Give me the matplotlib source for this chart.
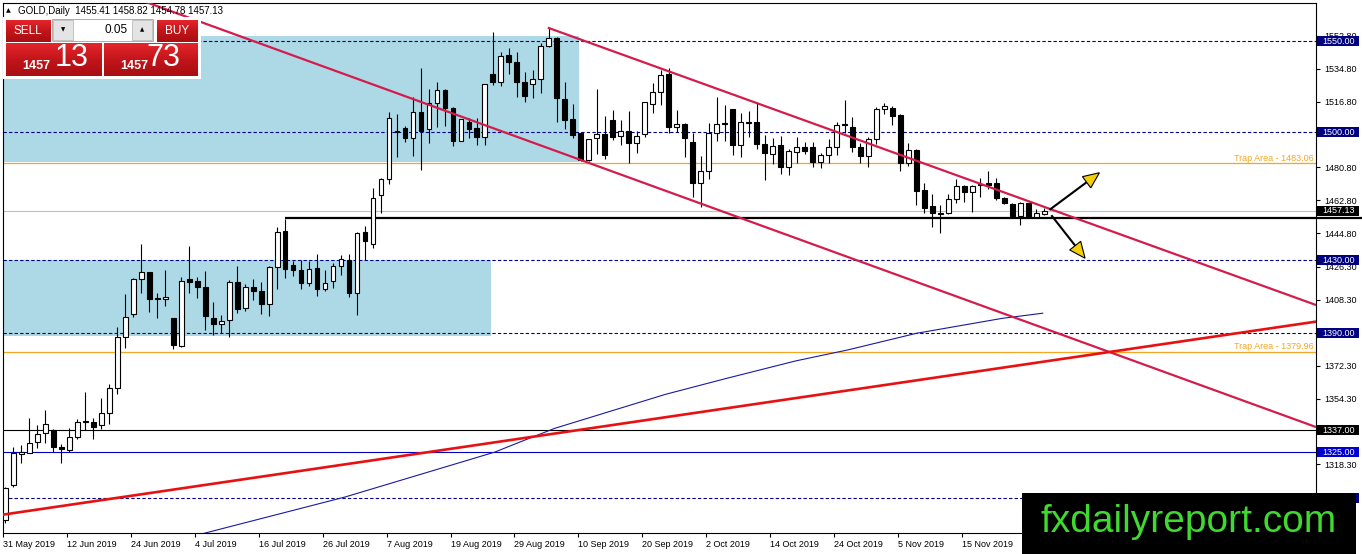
import numpy as np
import matplotlib
matplotlib.use("Agg")
import matplotlib.pyplot as plt
from matplotlib.patches import Rectangle, Polygon
from matplotlib.colors import LinearSegmentedColormap
from matplotlib import transforms

plt.rcParams['font.family'] = ['Liberation Sans', 'DejaVu Sans']

# Dane dzienne GOLD, od 31 May 2019
opens = [1288.0, 1307.0, 1324.0, 1324.7, 1330.4, 1335.3, 1336.9, 1327.6, 1326.2, 1333.1,
         1341.7, 1341.3, 1339.9, 1346.2, 1359.9, 1387.8, 1400.4, 1419.6, 1423.4, 1409.2,
         1409.0, 1398.2, 1383.3, 1419.6, 1418.7, 1415.2, 1398.2, 1394.9, 1397.3, 1418.2,
         1403.7, 1415.1, 1413.3, 1405.8, 1426.1, 1446.0, 1427.2, 1424.6, 1417.3, 1425.5,
         1414.0, 1418.8, 1426.8, 1430.1, 1412.2, 1445.3, 1438.9, 1465.7, 1474.3, 1500.0,
         1502.2, 1497.1, 1511.0, 1501.7, 1515.9, 1523.2, 1513.2, 1495.5, 1505.9, 1502.2,
         1497.6, 1531.8, 1527.4, 1542.3, 1538.7, 1527.4, 1526.3, 1529.0, 1547.4, 1551.8,
         1518.3, 1507.3, 1499.5, 1485.0, 1496.7, 1499.1, 1506.8, 1498.2, 1500.9, 1494.0,
         1499.1, 1515.5, 1521.9, 1531.9, 1503.1, 1504.6, 1494.5, 1472.1, 1478.8, 1499.5,
         1505.3, 1512.6, 1493.1, 1505.5, 1505.5, 1493.6, 1488.1, 1492.9, 1480.9, 1489.4,
         1491.8, 1491.8, 1484.0, 1487.6, 1491.8, 1504.6, 1502.7, 1491.8, 1487.2, 1496.2,
         1512.6, 1513.1, 1509.5, 1483.0, 1490.3, 1468.4, 1459.7, 1455.7, 1455.7, 1463.3,
         1470.8, 1467.5, 1471.5, 1472.5, 1472.5, 1463.9, 1460.6, 1454.2, 1461.2, 1453.9,
         1455.41]
highs = [1306.0, 1328.0, 1329.0, 1343.5, 1339.8, 1348.1, 1337.5, 1329.3, 1338.0, 1343.0,
         1357.7, 1343.5, 1354.4, 1362.3, 1393.7, 1411.6, 1420.1, 1438.9, 1423.8, 1412.3,
         1424.7, 1398.5, 1421.0, 1437.8, 1421.0, 1424.3, 1407.3, 1400.0, 1419.2, 1426.8,
         1417.0, 1419.5, 1417.9, 1426.8, 1448.0, 1452.4, 1429.7, 1430.1, 1429.7, 1433.4,
         1424.6, 1428.3, 1432.8, 1433.4, 1445.6, 1448.7, 1469.3, 1474.8, 1511.0, 1509.9,
         1503.7, 1519.5, 1535.4, 1523.7, 1527.7, 1523.5, 1514.0, 1507.5, 1507.7, 1507.7,
         1526.5, 1555.1, 1544.2, 1546.4, 1544.2, 1532.9, 1534.1, 1548.7, 1557.0, 1552.4,
         1527.4, 1515.3, 1500.0, 1496.5, 1524.0, 1508.9, 1512.2, 1506.8, 1511.9, 1500.9,
         1516.8, 1526.8, 1534.1, 1535.0, 1512.2, 1505.0, 1499.5, 1487.1, 1505.3, 1519.2,
         1515.0, 1513.0, 1510.4, 1511.9, 1516.8, 1498.5, 1496.7, 1498.0, 1490.7, 1497.3,
         1494.6, 1494.9, 1488.9, 1496.2, 1505.9, 1517.7, 1508.2, 1494.0, 1497.6, 1514.1,
         1516.2, 1514.4, 1509.8, 1494.0, 1490.7, 1472.5, 1466.3, 1460.2, 1466.3, 1474.3,
         1471.2, 1471.2, 1474.8, 1478.9, 1474.8, 1464.4, 1461.2, 1462.1, 1461.5, 1457.9,
         1458.82]
lows = [1286.0, 1305.7, 1319.0, 1324.3, 1327.1, 1329.8, 1325.3, 1319.2, 1325.3, 1332.0,
        1337.1, 1332.0, 1337.7, 1340.4, 1356.8, 1382.2, 1399.2, 1411.9, 1401.9, 1398.2,
        1405.0, 1381.3, 1382.7, 1411.9, 1409.6, 1391.8, 1389.0, 1390.0, 1388.0, 1400.9,
        1402.4, 1408.2, 1400.6, 1399.5, 1414.0, 1420.1, 1421.4, 1414.0, 1415.9, 1410.6,
        1413.3, 1414.6, 1421.9, 1410.0, 1400.0, 1430.1, 1436.5, 1456.0, 1471.7, 1486.7,
        1494.9, 1487.2, 1479.4, 1494.0, 1503.1, 1503.7, 1492.7, 1495.0, 1496.7, 1493.1,
        1493.1, 1525.9, 1525.6, 1531.8, 1519.5, 1516.8, 1519.0, 1521.4, 1546.9, 1505.8,
        1501.8, 1497.1, 1484.5, 1484.5, 1488.0, 1485.2, 1495.8, 1493.1, 1483.4, 1488.5,
        1497.6, 1510.8, 1515.0, 1499.8, 1500.4, 1486.7, 1464.4, 1459.3, 1474.3, 1495.4,
        1495.4, 1487.6, 1486.7, 1497.6, 1490.7, 1473.9, 1482.7, 1477.2, 1476.7, 1483.4,
        1488.0, 1481.2, 1480.7, 1483.0, 1487.6, 1499.8, 1489.4, 1483.4, 1480.9, 1493.6,
        1510.0, 1504.0, 1479.0, 1481.6, 1460.2, 1455.7, 1448.0, 1445.1, 1455.3, 1461.2,
        1462.1, 1456.6, 1464.4, 1468.8, 1463.0, 1461.0, 1453.9, 1449.3, 1452.9, 1453.9,
        1454.78]
closes = [1305.5, 1324.7, 1325.0, 1329.8, 1334.7, 1340.2, 1327.6, 1326.5, 1333.1, 1341.7,
          1341.5, 1338.9, 1346.2, 1359.9, 1387.8, 1399.2, 1419.6, 1423.4, 1408.6, 1408.6,
          1410.0, 1383.6, 1418.7, 1418.3, 1415.2, 1399.5, 1394.9, 1396.9, 1418.2, 1403.1,
          1415.1, 1413.3, 1405.8, 1426.1, 1445.6, 1425.0, 1424.6, 1417.3, 1425.0, 1414.0,
          1417.7, 1426.8, 1430.5, 1412.2, 1444.7, 1440.7, 1463.9, 1474.3, 1508.0, 1501.0,
          1496.7, 1511.0, 1500.8, 1515.9, 1523.2, 1513.2, 1495.5, 1507.1, 1501.8, 1497.6,
          1526.3, 1527.4, 1542.0, 1538.7, 1527.4, 1520.1, 1529.0, 1547.4, 1551.8, 1518.6,
          1506.8, 1498.6, 1485.0, 1496.2, 1499.0, 1487.6, 1497.6, 1500.9, 1494.0, 1498.2,
          1516.4, 1521.9, 1531.4, 1503.1, 1504.6, 1496.7, 1472.1, 1478.8, 1499.5, 1504.4,
          1504.6, 1493.1, 1505.5, 1505.3, 1493.6, 1488.5, 1492.5, 1480.9, 1490.0, 1491.8,
          1490.0, 1484.0, 1487.6, 1491.8, 1504.0, 1504.0, 1491.8, 1487.2, 1496.2, 1512.8,
          1514.4, 1509.0, 1483.4, 1490.3, 1468.1, 1458.4, 1455.7, 1455.5, 1463.3, 1470.6,
          1467.5, 1470.6, 1471.3, 1471.2, 1463.9, 1461.5, 1454.2, 1461.2, 1453.9, 1455.7,
          1457.13]

date_labels = ["31 May 2019", "12 Jun 2019", "24 Jun 2019", "4 Jul 2019", "16 Jul 2019",
               "26 Jul 2019", "7 Aug 2019", "19 Aug 2019", "29 Aug 2019", "10 Sep 2019",
               "20 Sep 2019", "2 Oct 2019", "14 Oct 2019", "24 Oct 2019", "5 Nov 2019",
               "15 Nov 2019"]
date_bars = [0, 8, 16, 24, 32, 40, 48, 56, 64, 72, 80, 88, 96, 104, 112, 120]

price_ticks = [1552.8, 1534.8, 1516.8, 1480.8, 1462.8, 1444.8, 1426.3,
               1408.3, 1372.3, 1354.3, 1318.3]

# Poziomy
dashed_levels = [1550.0, 1500.0, 1430.0, 1390.0, 1300.0]
trap_levels = [1483.06, 1379.96]
black_level = 1337.0
blue_level = 1325.0
bid_price = 1457.13
support_level = 1453.0
support_start = 35

# Prostokąty (bar od, bar do, cena dół, cena góra)
zone_bars = [(-1, 71.75), (-1, 60.75)]
zone_prices = [(1484.0, 1552.7), (1388.5, 1430.3)]

# Linie trendu (bary, ceny)
chan_upper_bars, chan_upper_px = [68, 164], [1557.1, 1405.5]
chan_lower_bars, chan_lower_px = [12, 164], [1580.2, 1338.7]
red_bars, red_px = [-1, 164], [1290.3, 1396.4]

# Średnia (odczytane punkty)
ma_bars = [23.5, 42.5, 61.25, 64.5, 68.75, 82.6, 90.3, 98.9, 105.4, 114, 124.75, 129.8]
ma_vals = [1279.0, 1300.4, 1325.0, 1330.7, 1338.0, 1356.6, 1365.4, 1374.9, 1380.9,
           1390.0, 1398.2, 1401.0]

# Strzałki (start, koniec)
arrows = [((130.75, 1457.9), (136.9, 1477.9)),
          ((130.96, 1454.2), (135.1, 1431.1))]

W, H = 1362, 554
fig = plt.figure(figsize=(W / 100, H / 100), dpi=100)
ax = fig.add_axes([3 / W, 21 / H, 1313 / W, 530 / H])
ax.set_xlim(-0.125, 164)
ax.set_ylim(1280.7, 1570.8)

NAVY = '#000080'
ORANGE = '#f5a623'
CRIMSON = '#d41c4c'

for (b0, b1), (p0, p1) in zip(zone_bars, zone_prices):
    ax.add_patch(Rectangle((b0, p0), b1 - b0, p1 - p0, facecolor='#add8e6',
                           edgecolor='none', zorder=1))

for lv in dashed_levels:
    ax.axhline(lv, color=NAVY, lw=0.8, ls=(0, (3, 2)), zorder=2)
for lv in trap_levels:
    ax.axhline(lv, color=ORANGE, lw=0.9, zorder=2)
ax.axhline(black_level, color='black', lw=0.8, zorder=2)
ax.axhline(blue_level, color='#0000c0', lw=0.8, zorder=2)
ax.axhline(bid_price, color='#c0c0c0', lw=0.8, zorder=1.5)
ax.plot([support_start, 169.8], [support_level, support_level], color='black',
        lw=1.6, zorder=2.8, clip_on=False, solid_capstyle='butt')

# Świece
idx = np.arange(len(opens))
o = np.array(opens); h = np.array(highs); l = np.array(lows); c = np.array(closes)
bull = c >= o
ax.vlines(idx, l, h, color='black', lw=0.8, zorder=3)
bottom = np.minimum(o, c)
height = np.maximum(np.abs(c - o), 0.25)
ax.bar(idx, height, bottom=bottom, width=0.6,
       color=np.where(bull, 'white', 'black'), edgecolor='black', linewidth=0.8, zorder=3.5)

# Linie trendu
ax.plot(chan_upper_bars, chan_upper_px, color=CRIMSON, lw=1.6, zorder=4)
ax.plot(chan_lower_bars, chan_lower_px, color=CRIMSON, lw=1.6, zorder=4)
ax.plot(red_bars, red_px, color='#e81010', lw=1.9, zorder=4)
ax.plot(ma_bars, ma_vals, color='#1a1aa0', lw=0.8, zorder=3.8)

# Napisy "Trap Area"
blend = transforms.blended_transform_factory(ax.transAxes, ax.transData)
for lv in trap_levels:
    ax.text(0.9985, lv + 0.4, "Trap Area - %.2f" % lv, transform=blend, ha='right',
            va='bottom', fontsize=6.5, color=ORANGE, zorder=5)

# Osie
for s in ax.spines.values():
    s.set_linewidth(0.8)
    s.set_color('black')
ax.yaxis.tick_right()
ax.set_yticks(price_ticks)
ax.set_yticklabels(["%.2f" % p for p in price_ticks])
ax.tick_params(axis='y', length=3, width=0.8, pad=3, labelsize=6.5)
ax.set_xticks([b - 0.3 for b in date_bars])
ax.set_xticklabels(date_labels, ha='left')
ax.tick_params(axis='x', length=3, width=0.8, pad=2, labelsize=6.5)


def price_tag(price, text, bg):
    ax.add_patch(Rectangle((1.0008, price - 2.7), 0.032, 5.4, transform=blend,
                           facecolor=bg, edgecolor='none', clip_on=False, zorder=6))
    ax.text(1.0046, price, text, transform=blend, ha='left', va='center',
            fontsize=6.5, color='white', zorder=7, clip_on=False)


for lv in dashed_levels:
    price_tag(lv, "%.2f" % lv, NAVY)
price_tag(bid_price, "%.2f" % bid_price, 'black')
price_tag(black_level, "%.2f" % black_level, 'black')
price_tag(blue_level, "%.2f" % blue_level, '#0000d0')

# Strzałki z żółtymi grotami
inv = ax.transData.inverted()
for (s, e) in arrows:
    p0 = ax.transData.transform(s)
    p1 = ax.transData.transform(e)
    d = p1 - p0
    u = d / np.hypot(*d)
    n = np.array([-u[1], u[0]])
    base = p1 - u * 16
    shaft = inv.transform([p0, base])
    ax.plot(shaft[:, 0], shaft[:, 1], color='black', lw=1.5, zorder=8, clip_on=False)
    tri = inv.transform([p1, base + n * 7, base - n * 7])
    ax.add_patch(Polygon(tri, closed=True, facecolor='#f2cf0a', edgecolor='black',
                         lw=0.8, zorder=8.5, clip_on=False))

# Nakładka: panel handlowy i znak wodny (współrzędne w pikselach)
ov = fig.add_axes([0, 0, 1, 1], zorder=10)
ov.set_xlim(0, W)
ov.set_ylim(H, 0)
ov.set_axis_off()

ov.text(6, 11, "\u25B2", fontsize=4.5, va='center', ha='left', family='DejaVu Sans')
ov.text(18, 11, "GOLD,Daily  1455.41 1458.82 1454.78 1457.13", fontsize=7,
        va='center', ha='left')

ov.add_patch(Rectangle((3, 17), 198, 62, facecolor='white', edgecolor='none'))
reds = LinearSegmentedColormap.from_list('r', ['#e4262c', '#c2151a', '#a80e12'])
grad = np.linspace(0, 1, 64).reshape(-1, 1)


def red_box(x0, y0, x1, y1):
    ov.imshow(grad, cmap=reds, extent=(x0, x1, y1, y0), aspect='auto',
              interpolation='bilinear', zorder=2)


red_box(6, 20, 51, 42)
red_box(157, 20, 198, 42)
red_box(6, 43, 102, 76)
red_box(104, 43, 198, 76)
ov.add_patch(Rectangle((52, 19), 101, 22, facecolor='white', edgecolor='#a0a0a0',
                       lw=0.6, zorder=2))
ov.add_patch(Rectangle((53, 20), 20, 20, facecolor='#e4e4e4', edgecolor='#b0b0b0',
                       lw=0.5, zorder=3))
ov.add_patch(Rectangle((132, 20), 20, 20, facecolor='#e4e4e4', edgecolor='#b0b0b0',
                       lw=0.5, zorder=3))
ov.text(63, 30, "\u25BC", fontsize=4, ha='center', va='center', family='DejaVu Sans', zorder=4)
ov.text(142, 30, "\u25B2", fontsize=4, ha='center', va='center', family='DejaVu Sans', zorder=4)
ov.text(128, 30, "0.05", fontsize=8.5, ha='right', va='center', zorder=4)
ov.text(28, 31, "SELL", fontsize=8.5, ha='center', va='center', color='white', zorder=4)
ov.text(177, 31, "BUY", fontsize=8.5, ha='center', va='center', color='white', zorder=4)
ov.text(22, 66, "1457", fontsize=9, weight='bold', ha='left', va='center',
        color='white', zorder=4)
ov.text(55, 58, "13", fontsize=22, ha='left', va='center', color='white', zorder=4)
ov.text(120, 66, "1457", fontsize=9, weight='bold', ha='left', va='center',
        color='white', zorder=4)
ov.text(146, 58, "73", fontsize=22, ha='left', va='center', color='white', zorder=4)

ov.add_patch(Rectangle((1022, 493), 334, 61, facecolor='black', edgecolor='none', zorder=5))
ov.text(1189, 522, "fxdailyreport.com", fontsize=28, color='#3fd92f', ha='center',
        va='center', zorder=6)

ov.set_xlim(0, W)
ov.set_ylim(H, 0)

fig.savefig("out.png", dpi=100, facecolor='white')
